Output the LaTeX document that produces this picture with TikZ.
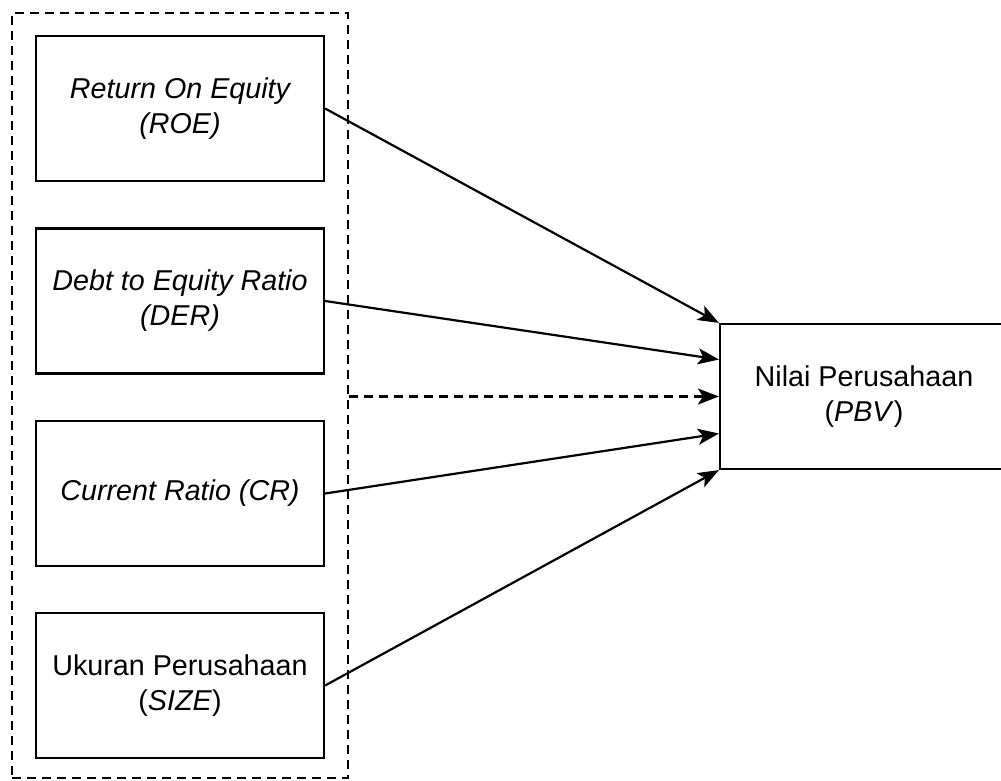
\documentclass[tikz,border=0pt]{standalone}
\usepackage{fontspec}
\setmainfont{Liberation Sans}
\usetikzlibrary{arrows.meta,calc}
\begin{document}
\begin{tikzpicture}[x=1pt,y=-1pt,
  box/.style={draw=black,line width=2.2pt,minimum width=288pt,minimum height=145pt,align=center,inner sep=0pt,font=\fontsize{28.7}{35}\selectfont},
  grpbox/.style={draw=black,line width=2.2pt,dash pattern=on 9pt off 6pt},
  conn/.style={line width=2.2pt,-{Stealth[length=21pt,width=16pt,inset=5pt]}}]
\useasboundingbox (0,0) rectangle (1001,780);
\node[grpbox,minimum width=336pt,minimum height=765pt,inner sep=0pt] (grp) at (180,395.5) {};
\node[box] (roe) at (180,108.5) {\itshape Return On Equity\\\itshape (ROE)};
\node[box] (der) at (180,301) {\itshape Debt to Equity Ratio\\\itshape (DER)};
\node[box] (cr) at (180,493.5) {\itshape Current Ratio (CR)};
\node[box] (size) at (180,685.5) {Ukuran Perusahaan\\(\textit{SIZE})};
\node[box] (pbv) at (864,396.5) {Nilai Perusahaan\\(\textit{PBV})};
\coordinate (t2) at ($(pbv.west)+(0,-37)$);
\coordinate (t4) at ($(pbv.west)+(0,37)$);
\coordinate (s0) at (grp.east |- pbv.west);
\draw[conn] (roe.east) -- (pbv.north west);
\draw[conn] (der.east) -- (t2);
\draw[conn,dash pattern=on 9pt off 6pt] (s0) -- (pbv.west);
\draw[conn] (cr.east) -- (t4);
\draw[conn] (size.east) -- (pbv.south west);
\end{tikzpicture}
\end{document}
